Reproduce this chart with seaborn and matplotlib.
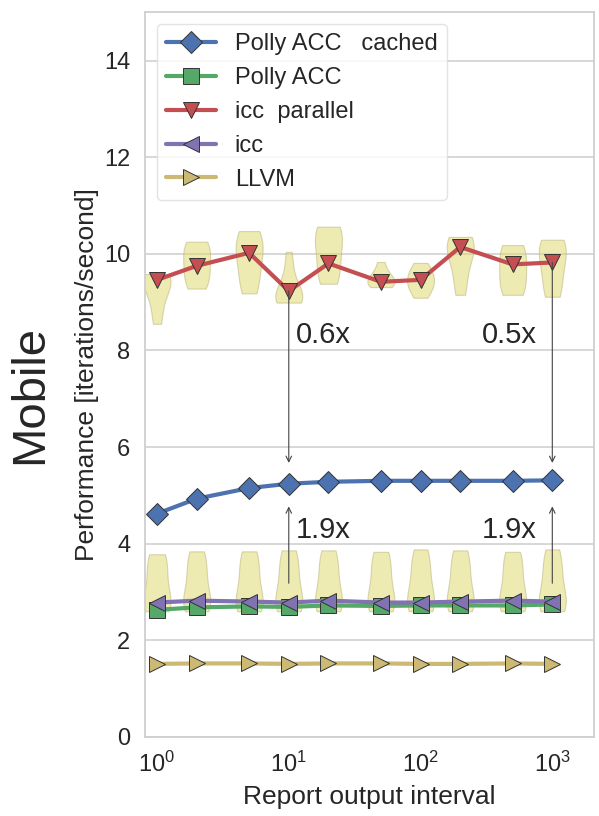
import numpy as np
import pandas as pd
import matplotlib
matplotlib.use('Agg')
import matplotlib.pyplot as plt
import seaborn as sns

# report output interval
x = [1, 2, 5, 10, 20, 50, 100, 200, 500, 1000]

# mean performance [iterations/second]
polly_cached = [4.62, 4.93, 5.15, 5.24, 5.28, 5.30, 5.30, 5.30, 5.30, 5.31]
polly = [2.63, 2.68, 2.70, 2.69, 2.72, 2.71, 2.72, 2.72, 2.72, 2.74]
icc_par = [9.46, 9.75, 10.02, 9.23, 9.80, 9.42, 9.46, 10.14, 9.78, 9.82]
icc = [2.78, 2.82, 2.80, 2.78, 2.82, 2.78, 2.78, 2.80, 2.82, 2.80]
llvm = [1.51, 1.52, 1.52, 1.51, 1.52, 1.52, 1.51, 1.51, 1.52, 1.51]

# single runs (for the violins)
icc_par_runs = [
    [8.55, 8.8, 9.1, 9.3, 9.4, 9.45, 9.5, 9.55, 9.58],
    [9.28, 9.3, 9.4, 9.5, 9.6, 9.7, 9.8, 9.9, 10.0, 10.1, 10.2, 10.23, 10.25],
    [9.18, 9.22, 9.35, 9.5, 9.65, 9.8, 9.9, 10.0, 10.1, 10.2, 10.3, 10.38, 10.44, 10.47],
    [8.99, 9.0, 9.02, 9.05, 9.1, 9.15, 9.2, 9.3, 9.5, 9.75, 10.04],
    [9.38, 9.42, 9.55, 9.7, 9.85, 10.0, 10.15, 10.3, 10.42, 10.5, 10.54, 10.56],
    [9.31, 9.35, 9.4, 9.45, 9.5, 9.6, 9.83],
    [9.09, 9.2, 9.3, 9.4, 9.45, 9.5, 9.6, 9.7, 9.81],
    [9.15, 9.3, 9.55, 9.8, 9.95, 10.05, 10.15, 10.22, 10.28, 10.32, 10.35],
    [9.15, 9.18, 9.3, 9.45, 9.6, 9.75, 9.9, 10.05, 10.15, 10.18],
    [9.11, 9.15, 9.3, 9.5, 9.65, 9.8, 9.95, 10.05, 10.15, 10.22, 10.27, 10.29],
]
icc_runs = [
    [2.6, 2.62, 2.65, 2.68, 2.72, 2.78, 2.88, 3.0, 3.15, 3.3, 3.45, 3.58, 3.68, 3.75, 3.78],
    [2.6, 2.62, 2.65, 2.68, 2.72, 2.78, 2.88, 3.0, 3.15, 3.3, 3.45, 3.58, 3.7, 3.8, 3.84],
    [2.6, 2.62, 2.65, 2.68, 2.72, 2.78, 2.88, 3.0, 3.15, 3.3, 3.45, 3.58, 3.7, 3.8, 3.84],
    [2.6, 2.62, 2.65, 2.68, 2.72, 2.78, 2.88, 3.0, 3.15, 3.3, 3.45, 3.58, 3.7, 3.82, 3.86],
    [2.6, 2.62, 2.65, 2.68, 2.72, 2.78, 2.88, 3.0, 3.15, 3.3, 3.45, 3.58, 3.7, 3.82, 3.86],
    [2.6, 2.62, 2.65, 2.68, 2.72, 2.78, 2.88, 3.0, 3.15, 3.3, 3.45, 3.58, 3.7, 3.8, 3.83],
    [2.6, 2.62, 2.65, 2.68, 2.72, 2.78, 2.88, 3.0, 3.15, 3.3, 3.45, 3.58, 3.7, 3.84, 3.88],
    [2.6, 2.62, 2.65, 2.68, 2.72, 2.78, 2.88, 3.0, 3.15, 3.3, 3.45, 3.58, 3.7, 3.82, 3.86],
    [2.6, 2.62, 2.65, 2.68, 2.72, 2.78, 2.88, 3.0, 3.15, 3.3, 3.45, 3.58, 3.7, 3.8, 3.83],
    [2.6, 2.62, 2.65, 2.68, 2.72, 2.78, 2.88, 3.0, 3.15, 3.3, 3.45, 3.58, 3.7, 3.84, 3.88],
]

# speedup annotations
speedup_down = ['0.6x', '0.5x']
speedup_up = ['1.9x', '1.9x']

sns.set_style('whitegrid')
plt.rcParams['font.family'] = ['Liberation Sans', 'DejaVu Sans']

fig, ax = plt.subplots(figsize=(5.99, 8.16), dpi=100)
fig.subplots_adjust(left=0.242, right=0.992, bottom=0.097, top=0.985)

def runs_frame(runs):
    rows = [(xi, v) for xi, r in zip(x, runs) for v in r]
    return pd.DataFrame(rows, columns=['interval', 'perf'])

for runs in [icc_par_runs, icc_runs]:
    sns.violinplot(data=runs_frame(runs), x='interval', y='perf', native_scale=True,
                   log_scale=(True, False), orient='x', cut=0, inner=None,
                   density_norm='width', width=0.68, bw_adjust=1.2,
                   color='#ddd965', saturation=1,
                   linewidth=0.8, linecolor='#b5b07a', alpha=0.5, ax=ax)

lk = dict(lw=3, markersize=11, markeredgecolor='#333333', markeredgewidth=0.7)
sns.lineplot(x=x, y=polly_cached, marker='D', color='#4C72B0', label='Polly ACC   cached', ax=ax, **lk)
sns.lineplot(x=x, y=polly, marker='s', color='#55A868', label='Polly ACC', ax=ax, **lk)
sns.lineplot(x=x, y=icc_par, marker='v', color='#C44E52', label='icc  parallel', ax=ax, **lk)
sns.lineplot(x=x, y=icc, marker='<', color='#8172B2', label='icc', ax=ax, **lk)
sns.lineplot(x=x, y=llvm, marker='>', color='#CCB974', label='LLVM', ax=ax, **lk)

arr = dict(arrowstyle='->', color='#444444', lw=0.8, shrinkA=0, shrinkB=0)
for xi, txt, tx in zip([10, 1000], speedup_down, [11.3, 290]):
    i = x.index(xi)
    ax.annotate('', xy=(xi, 5.67), xytext=(xi, icc_par[i]), arrowprops=arr)
    ax.text(tx, 8.31, txt, fontsize=21, color='#262626', ha='left', va='center')
for xi, txt, tx in zip([10, 1000], speedup_up, [11.3, 290]):
    ax.annotate('', xy=(xi, 4.77), xytext=(xi, 3.18), arrowprops=arr)
    ax.text(tx, 4.28, txt, fontsize=21, color='#262626', ha='left', va='center')

ax.set_xscale('log')
ax.set_xlim(0.81, 2080)
ax.set_ylim(0, 15)
ax.set_yticks(range(0, 15, 2))
ax.grid(False, axis='x')
ax.grid(True, axis='y', color='#d4d4d4', lw=1.3)
for s in ax.spines.values():
    s.set_color('#cfcfcf')
    s.set_linewidth(1.3)
ax.tick_params(axis='both', labelsize=17, pad=7, colors='#262626')

ax.set_xlabel('Report output interval', fontsize=19, color='#262626', labelpad=6)
ax.set_ylabel('Performance [iterations/second]', fontsize=19, color='#262626')
ax.yaxis.set_label_coords(-0.103, 0.5)

fig.text(0.05, 0.516, 'Mobile', rotation=90, fontsize=34, va='center', ha='center')

leg = ax.legend(loc='upper left', fontsize=17, frameon=True, handlelength=2.1)
leg.get_frame().set_edgecolor('#dddddd')

plt.savefig('out.png', dpi=100)
